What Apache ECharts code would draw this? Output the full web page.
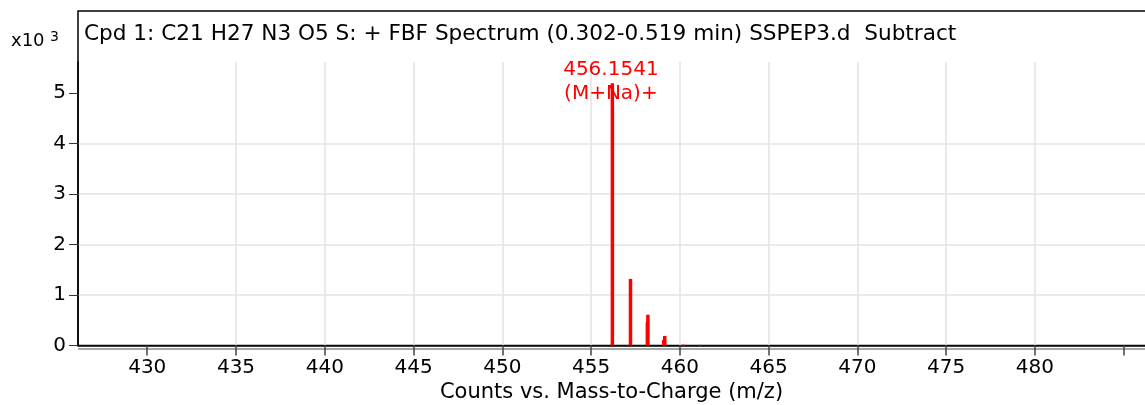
<!DOCTYPE html>
<html><head><meta charset="utf-8">
<script src="https://cdn.jsdelivr.net/npm/echarts@6/dist/echarts.min.js"></script>
<style>html,body{margin:0;padding:0;background:#fff}#c{width:1145px;height:405px}</style>
</head><body><div id="c"></div>
<script>
const titleText = 'Cpd 1: C21 H27 N3 O5 S: + FBF Spectrum (0.302-0.519 min) SSPEP3.d  Subtract';
const xAxisName = 'Counts vs. Mass-to-Charge (m/z)';
const mzValues = [456.20, 457.22, 458.17, 458.20, 459.09, 459.15, 460.20, 461.16];
const countValues = [5200, 1320, 460, 610, 110, 190, 15, 12];
const xTickValues = [430, 435, 440, 445, 450, 455, 460, 465, 470, 475, 480, 485];
const xLabelValues = [430, 435, 440, 445, 450, 455, 460, 465, 470, 475, 480];
const yTickValues = [0, 1000, 2000, 3000, 4000, 5000];
const peakLabel = ['456.1541', '(M+Na)+'];

const FONT = '"DejaVu Sans", sans-serif';
const chart = echarts.init(document.getElementById('c'));
const data = mzValues.map((m, i) => {
  const d = { value: [m, countValues[i]] };
  if (i === 0) {
    d.label = { show: true, position: 'top', distance: 0, offset: [-1.5, 22.5],
      formatter: peakLabel.join('\n'), color: '#ff0000', fontSize: 20, lineHeight: 24, fontFamily: FONT };
  }
  return d;
});
chart.setOption({
  animation: false,
  title: { text: titleText, left: 79, top: 18, textStyle: { fontSize: 21.6, fontWeight: 'normal', color: '#000', fontFamily: FONT } },
  grid: { left: 78, right: 0, top: 62, bottom: 59.5, containLabel: false, outerBoundsMode: 'none' },
  xAxis: {
    type: 'value', min: 426.1, max: 486.2, minInterval: 5, maxInterval: 5,
    name: xAxisName, nameLocation: 'middle', nameGap: 34,
    nameTextStyle: { fontSize: 21, color: '#000', fontFamily: FONT },
    axisLine: { show: true, lineStyle: { color: '#111', width: 1.5 } },
    axisTick: { show: true, length: 10, lineStyle: { color: '#444', width: 1.5 }, customValues: xTickValues },
    axisLabel: { customValues: xLabelValues, fontSize: 20, color: '#000', margin: 12, fontFamily: FONT },
    splitLine: { show: true, showMinLine: false, showMaxLine: false, lineStyle: { color: '#e3e3e3', width: 1.5 } }
  },
  yAxis: {
    type: 'value', min: 0, max: 5620, minInterval: 1000, maxInterval: 1000,
    axisLine: { show: true, lineStyle: { color: '#000', width: 1.5 } },
    axisTick: { show: true, length: 9, lineStyle: { color: '#333' }, customValues: yTickValues },
    axisLabel: { customValues: yTickValues, formatter: v => String(v / 1000), fontSize: 20, color: '#000', margin: 12, fontFamily: FONT },
    splitLine: { show: true, showMinLine: false, showMaxLine: false, lineStyle: { color: '#e3e3e3', width: 1.5 } }
  },
  graphic: [
    { type: 'rect', shape: { x: 78, y: 11, width: 1100, height: 334.5 }, style: { fill: 'none', stroke: '#000', lineWidth: 1.5 }, silent: true },
    { type: 'line', shape: { x1: 78, y1: 349, x2: 1145, y2: 349 }, style: { stroke: '#888', lineWidth: 1.5 }, silent: true },
    { type: 'text', x: 11, y: 41, style: { text: 'x10', fill: '#000', font: '18px ' + FONT, textVerticalAlign: 'middle' } },
    { type: 'text', x: 50, y: 37, style: { text: '3', fill: '#000', font: '14px ' + FONT, textVerticalAlign: 'middle' } }
  ],
  series: [{
    type: 'bar', data: data, barWidth: 3.5,
    itemStyle: { color: '#ff0000' }
  }]
});
</script></body></html>
